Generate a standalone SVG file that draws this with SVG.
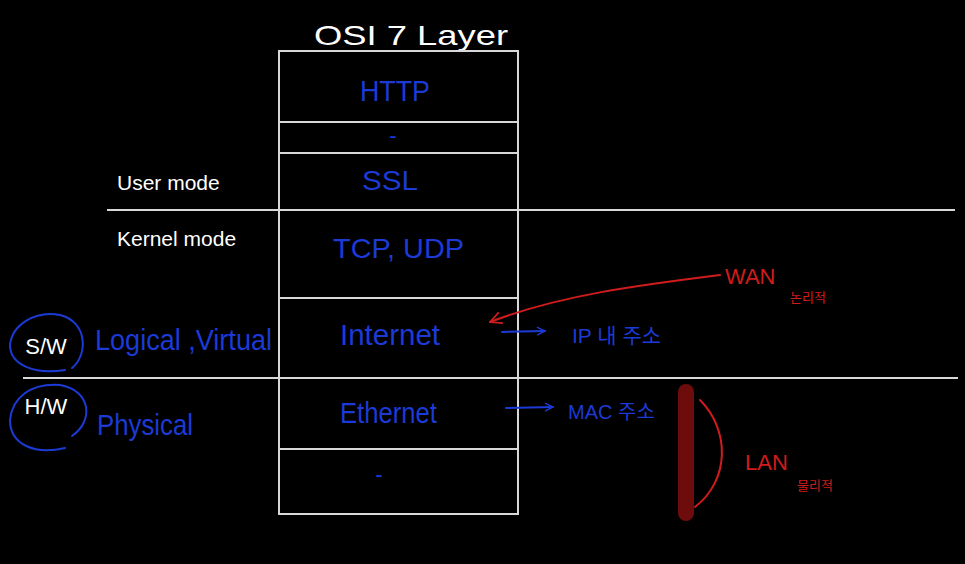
<svg xmlns="http://www.w3.org/2000/svg" width="965" height="564" viewBox="0 0 965 564">
<defs>
<style>
.bg{fill:#000}
.ln{stroke:#d8d8d8;stroke-width:2;fill:none}
.w{fill:#fff;font-family:"Liberation Sans",Arial,sans-serif}
.b{fill:#1c3ad6;font-family:"Liberation Sans","Noto Sans CJK KR",sans-serif}
.r{fill:#d01c1c;font-family:"Liberation Sans","Noto Sans CJK KR",sans-serif}
.bs{stroke:#1c3ad6;stroke-width:2;fill:none;stroke-linecap:round}
.rs{stroke:#d01c1c;stroke-width:2;fill:none;stroke-linecap:round}
</style>
<marker id="ab" viewBox="0 0 10 10" refX="9" refY="5" markerWidth="10" markerHeight="10" markerUnits="userSpaceOnUse" orient="auto"><path d="M1,1 L9,5 L1,9" fill="none" stroke="#1c3ad6" stroke-width="1.5"/></marker>
<marker id="ar" viewBox="0 0 12 12" refX="11" refY="6" markerWidth="14" markerHeight="14" markerUnits="userSpaceOnUse" orient="auto"><path d="M1,1 L11,6 L1,11" fill="none" stroke="#d01c1c" stroke-width="1.5"/></marker>
</defs>
<rect class="bg" x="0" y="0" width="965" height="564"/>
<text class="w" x="314" y="45" font-size="28" textLength="194" lengthAdjust="spacingAndGlyphs">OSI  7 Layer</text>
<g id="stack">
<rect class="ln" x="279" y="51" width="239" height="463"/>
<line class="ln" x1="279" y1="122" x2="518" y2="122"/>
<line class="ln" x1="279" y1="153" x2="518" y2="153"/>
<line class="ln" x1="279" y1="298" x2="518" y2="298"/>
<line class="ln" x1="279" y1="449" x2="518" y2="449"/>
</g>
<g id="dividers">
<line class="ln" x1="107" y1="210" x2="955" y2="210"/>
<line class="ln" x1="23" y1="378" x2="958" y2="378"/>
</g>
<g id="layer-http"><text class="b" x="360" y="101" font-size="30" textLength="70" lengthAdjust="spacingAndGlyphs">HTTP</text></g>
<g id="layer-dash1"><text class="b" x="393" y="143" font-size="22" text-anchor="middle">-</text></g>
<g id="layer-ssl"><text class="b" x="362" y="190" font-size="28" textLength="56" lengthAdjust="spacingAndGlyphs">SSL</text></g>
<g id="layer-tcp"><text class="b" x="333" y="258" font-size="28" textLength="131" lengthAdjust="spacingAndGlyphs">TCP, UDP</text></g>
<g id="layer-internet"><text class="b" x="340" y="345" font-size="29" textLength="100" lengthAdjust="spacingAndGlyphs">Internet</text></g>
<g id="layer-ethernet"><text class="b" x="340" y="423" font-size="29" textLength="97" lengthAdjust="spacingAndGlyphs">Ethernet</text></g>
<g id="layer-dash2"><text class="b" x="379" y="482" font-size="22" text-anchor="middle">-</text></g>
<g id="user-mode"><text class="w" x="117" y="190" font-size="21">User mode</text></g>
<g id="kernel-mode"><text class="w" x="117" y="246" font-size="21">Kernel mode</text></g>
<g id="sw">
<path class="bs" d="M72,368 C88,355 88,322 60,315 C35,310 12,325 10,345 C10,365 35,375 65,370"/>
<text class="w" x="46" y="354" font-size="22" text-anchor="middle">S/W</text>
</g>
<g id="hw">
<path class="bs" d="M72,436 C95,420 90,390 60,385 C30,383 12,398 10,420 C10,445 35,455 65,448"/>
<text class="w" x="46" y="414" font-size="22" text-anchor="middle">H/W</text>
</g>
<g id="logical"><text class="b" x="95" y="350" font-size="30" textLength="177" lengthAdjust="spacingAndGlyphs">Logical ,Virtual</text></g>
<g id="physical"><text class="b" x="97" y="435" font-size="30" textLength="96" lengthAdjust="spacingAndGlyphs">Physical</text></g>
<g id="ip-addr"><text class="b" x="572" y="343" font-size="21">IP 내 주소</text></g>
<g id="mac-addr"><text class="b" x="568" y="419" font-size="20">MAC 주소</text></g>
<g id="wan"><text class="r" x="725" y="284" font-size="22">WAN</text><text class="r" x="790" y="302" font-size="13">논리적</text></g>
<g id="lan"><text class="r" x="745" y="470" font-size="22">LAN</text><text class="r" x="797" y="490" font-size="13">물리적</text></g>
<g id="lan-bar"><rect x="678" y="384" width="16" height="137" rx="8" fill="#6e0c0c"/></g>
<g id="connectors">
<line class="bs" x1="502" y1="332" x2="545" y2="331" marker-end="url(#ab)"/>
<line class="bs" x1="506" y1="408" x2="553" y2="407" marker-end="url(#ab)"/>
<path class="rs" d="M720,275 C640,285 560,295 490,322" marker-end="url(#ar)"/>
<path class="rs" d="M700,400 C730,430 730,480 695,507"/>
</g>
</svg>
